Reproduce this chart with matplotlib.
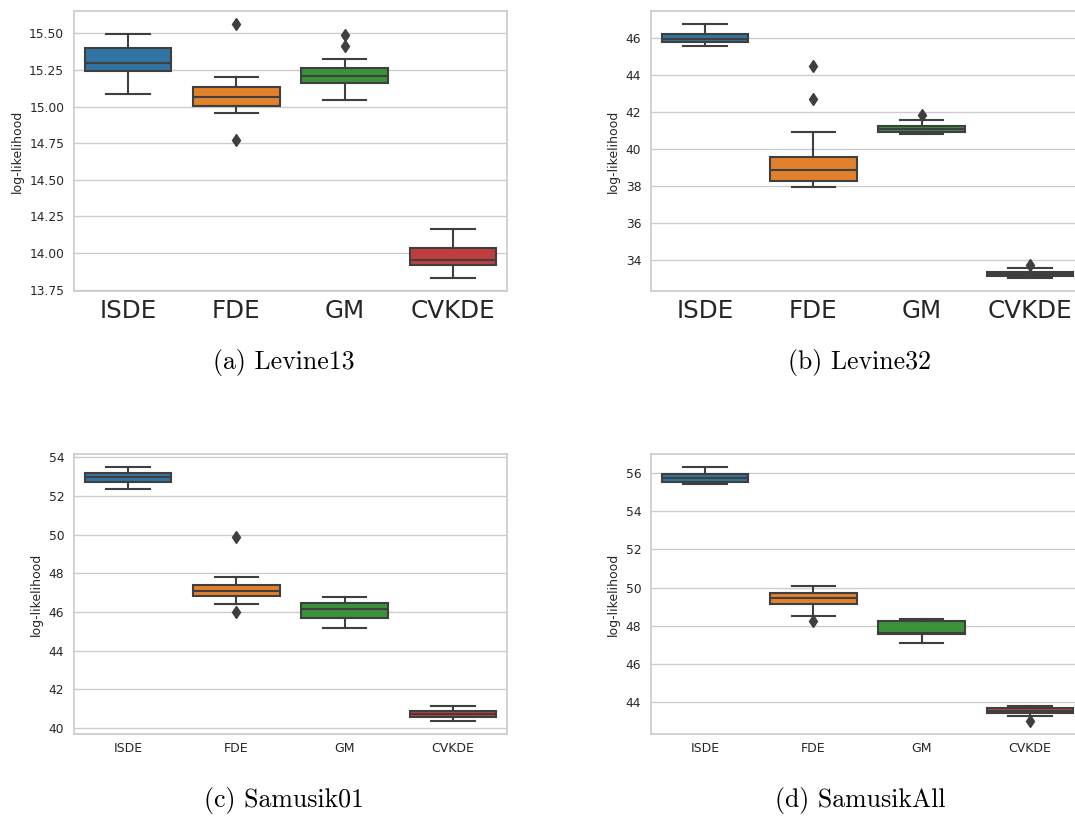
import matplotlib
matplotlib.use('Agg')
import matplotlib.pyplot as plt
from matplotlib.ticker import MultipleLocator, FormatStrFormatter

W, H = 1075, 818

categories = ['ISDE', 'FDE', 'GM', 'CVKDE']
box_colors = ['#3274a1', '#e1812c', '#3a923a', '#c03d3e']

# (whislo, q1, median, q3, whishi) per category
levine13_stats = [
    (15.086, 15.245, 15.297, 15.398, 15.495),
    (14.954, 15.006, 15.065, 15.136, 15.204),
    (15.047, 15.163, 15.211, 15.261, 15.325),
    (13.827, 13.921, 13.950, 14.037, 14.164),
]
levine13_fliers = [[], [15.566, 14.769], [15.486, 15.411], []]

levine32_stats = [
    (45.585, 45.783, 45.964, 46.235, 46.776),
    (37.916, 38.240, 38.872, 39.558, 40.910),
    (40.785, 40.930, 41.090, 41.254, 41.580),
    (32.990, 33.120, 33.220, 33.330, 33.567),
]
levine32_fliers = [[], [44.466, 42.698], [41.810], [33.690]]

samusik01_stats = [
    (52.350, 52.746, 52.969, 53.210, 53.519),
    (46.390, 46.820, 47.110, 47.400, 47.816),
    (45.170, 45.690, 46.170, 46.440, 46.800),
    (40.340, 40.570, 40.740, 40.890, 41.117),
]
samusik01_fliers = [[], [49.877, 45.980], [], []]

samusikall_stats = [
    (55.440, 55.546, 55.755, 55.965, 56.349),
    (48.520, 49.150, 49.450, 49.730, 50.061),
    (47.110, 47.560, 47.630, 48.230, 48.367),
    (43.270, 43.430, 43.530, 43.650, 43.770),
]
samusikall_fliers = [[], [48.220], [], [42.970]]

captions = ['(a) Levine13', '(b) Levine32', '(c) Samusik01', '(d) SamusikAll']

fig = plt.figure(figsize=(W / 100, H / 100), dpi=100)
fig.patch.set_facecolor('white')

def px_axes(left, top, right, bottom):
    return fig.add_axes([left / W, 1 - bottom / H, (right - left) / W, (bottom - top) / H])

line_c = '#3f3f3f'

def draw_panel(ax, stats, fliers, step, fmt, xfs, yfs, labfs):
    bstats = []
    for (lo, q1, med, q3, hi), fl in zip(stats, fliers):
        bstats.append(dict(whislo=lo, q1=q1, med=med, q3=q3, whishi=hi, fliers=fl))
    ax.set_axisbelow(True)
    ax.grid(True, axis='y', color='#cccccc', linewidth=1.0)
    ax.grid(False, axis='x')
    res = ax.bxp(bstats, positions=range(len(categories)), widths=0.8, patch_artist=True,
                 showcaps=True,
                 boxprops=dict(edgecolor=line_c, linewidth=1.5),
                 medianprops=dict(color=line_c, linewidth=1.5),
                 whiskerprops=dict(color=line_c, linewidth=1.5),
                 capprops=dict(color=line_c, linewidth=1.5),
                 flierprops=dict(marker='d', markerfacecolor=line_c, markeredgecolor=line_c,
                                 markersize=6.5, linestyle='none'))
    for patch, c in zip(res['boxes'], box_colors):
        patch.set_facecolor(c)
    ax.set_xlim(-0.5, len(categories) - 0.5)
    ax.margins(y=0.05)
    ax.set_xticks(range(len(categories)))
    ax.set_xticklabels(categories, fontsize=xfs, color='#262626')
    ax.yaxis.set_major_locator(MultipleLocator(step))
    ax.yaxis.set_major_formatter(FormatStrFormatter(fmt))
    ax.tick_params(axis='both', length=0, colors='#262626')
    ax.tick_params(axis='y', labelsize=yfs, pad=7)
    ax.tick_params(axis='x', pad=6)
    ax.set_ylabel('log-likelihood', fontsize=labfs, color='#262626', labelpad=4)
    for s in ax.spines.values():
        s.set_color('#cccccc')
        s.set_linewidth(1.25)

ax_a = px_axes(74, 11, 507, 291)
draw_panel(ax_a, levine13_stats, levine13_fliers, 0.25, '%.2f', 17.7, 8.8, 9)
ax_b = px_axes(651, 11, 1084, 291)
draw_panel(ax_b, levine32_stats, levine32_fliers, 2, '%d', 17.7, 8.8, 9)
ax_c = px_axes(74, 454, 507, 734)
draw_panel(ax_c, samusik01_stats, samusik01_fliers, 2, '%d', 9, 8.8, 9)
ax_d = px_axes(651, 454, 1084, 734)
draw_panel(ax_d, samusikall_stats, samusikall_fliers, 2, '%d', 9, 8.8, 9)

cap_pos = [(284, 363), (860, 363), (284, 801), (860, 801)]
for txt, (x, y) in zip(captions, cap_pos):
    fig.text(x / W, 1 - y / H, txt, ha='center', va='center', fontsize=18.6,
             family=['cmr10', 'DejaVu Serif'], color='black')

fig.savefig('out.png', dpi=100)
